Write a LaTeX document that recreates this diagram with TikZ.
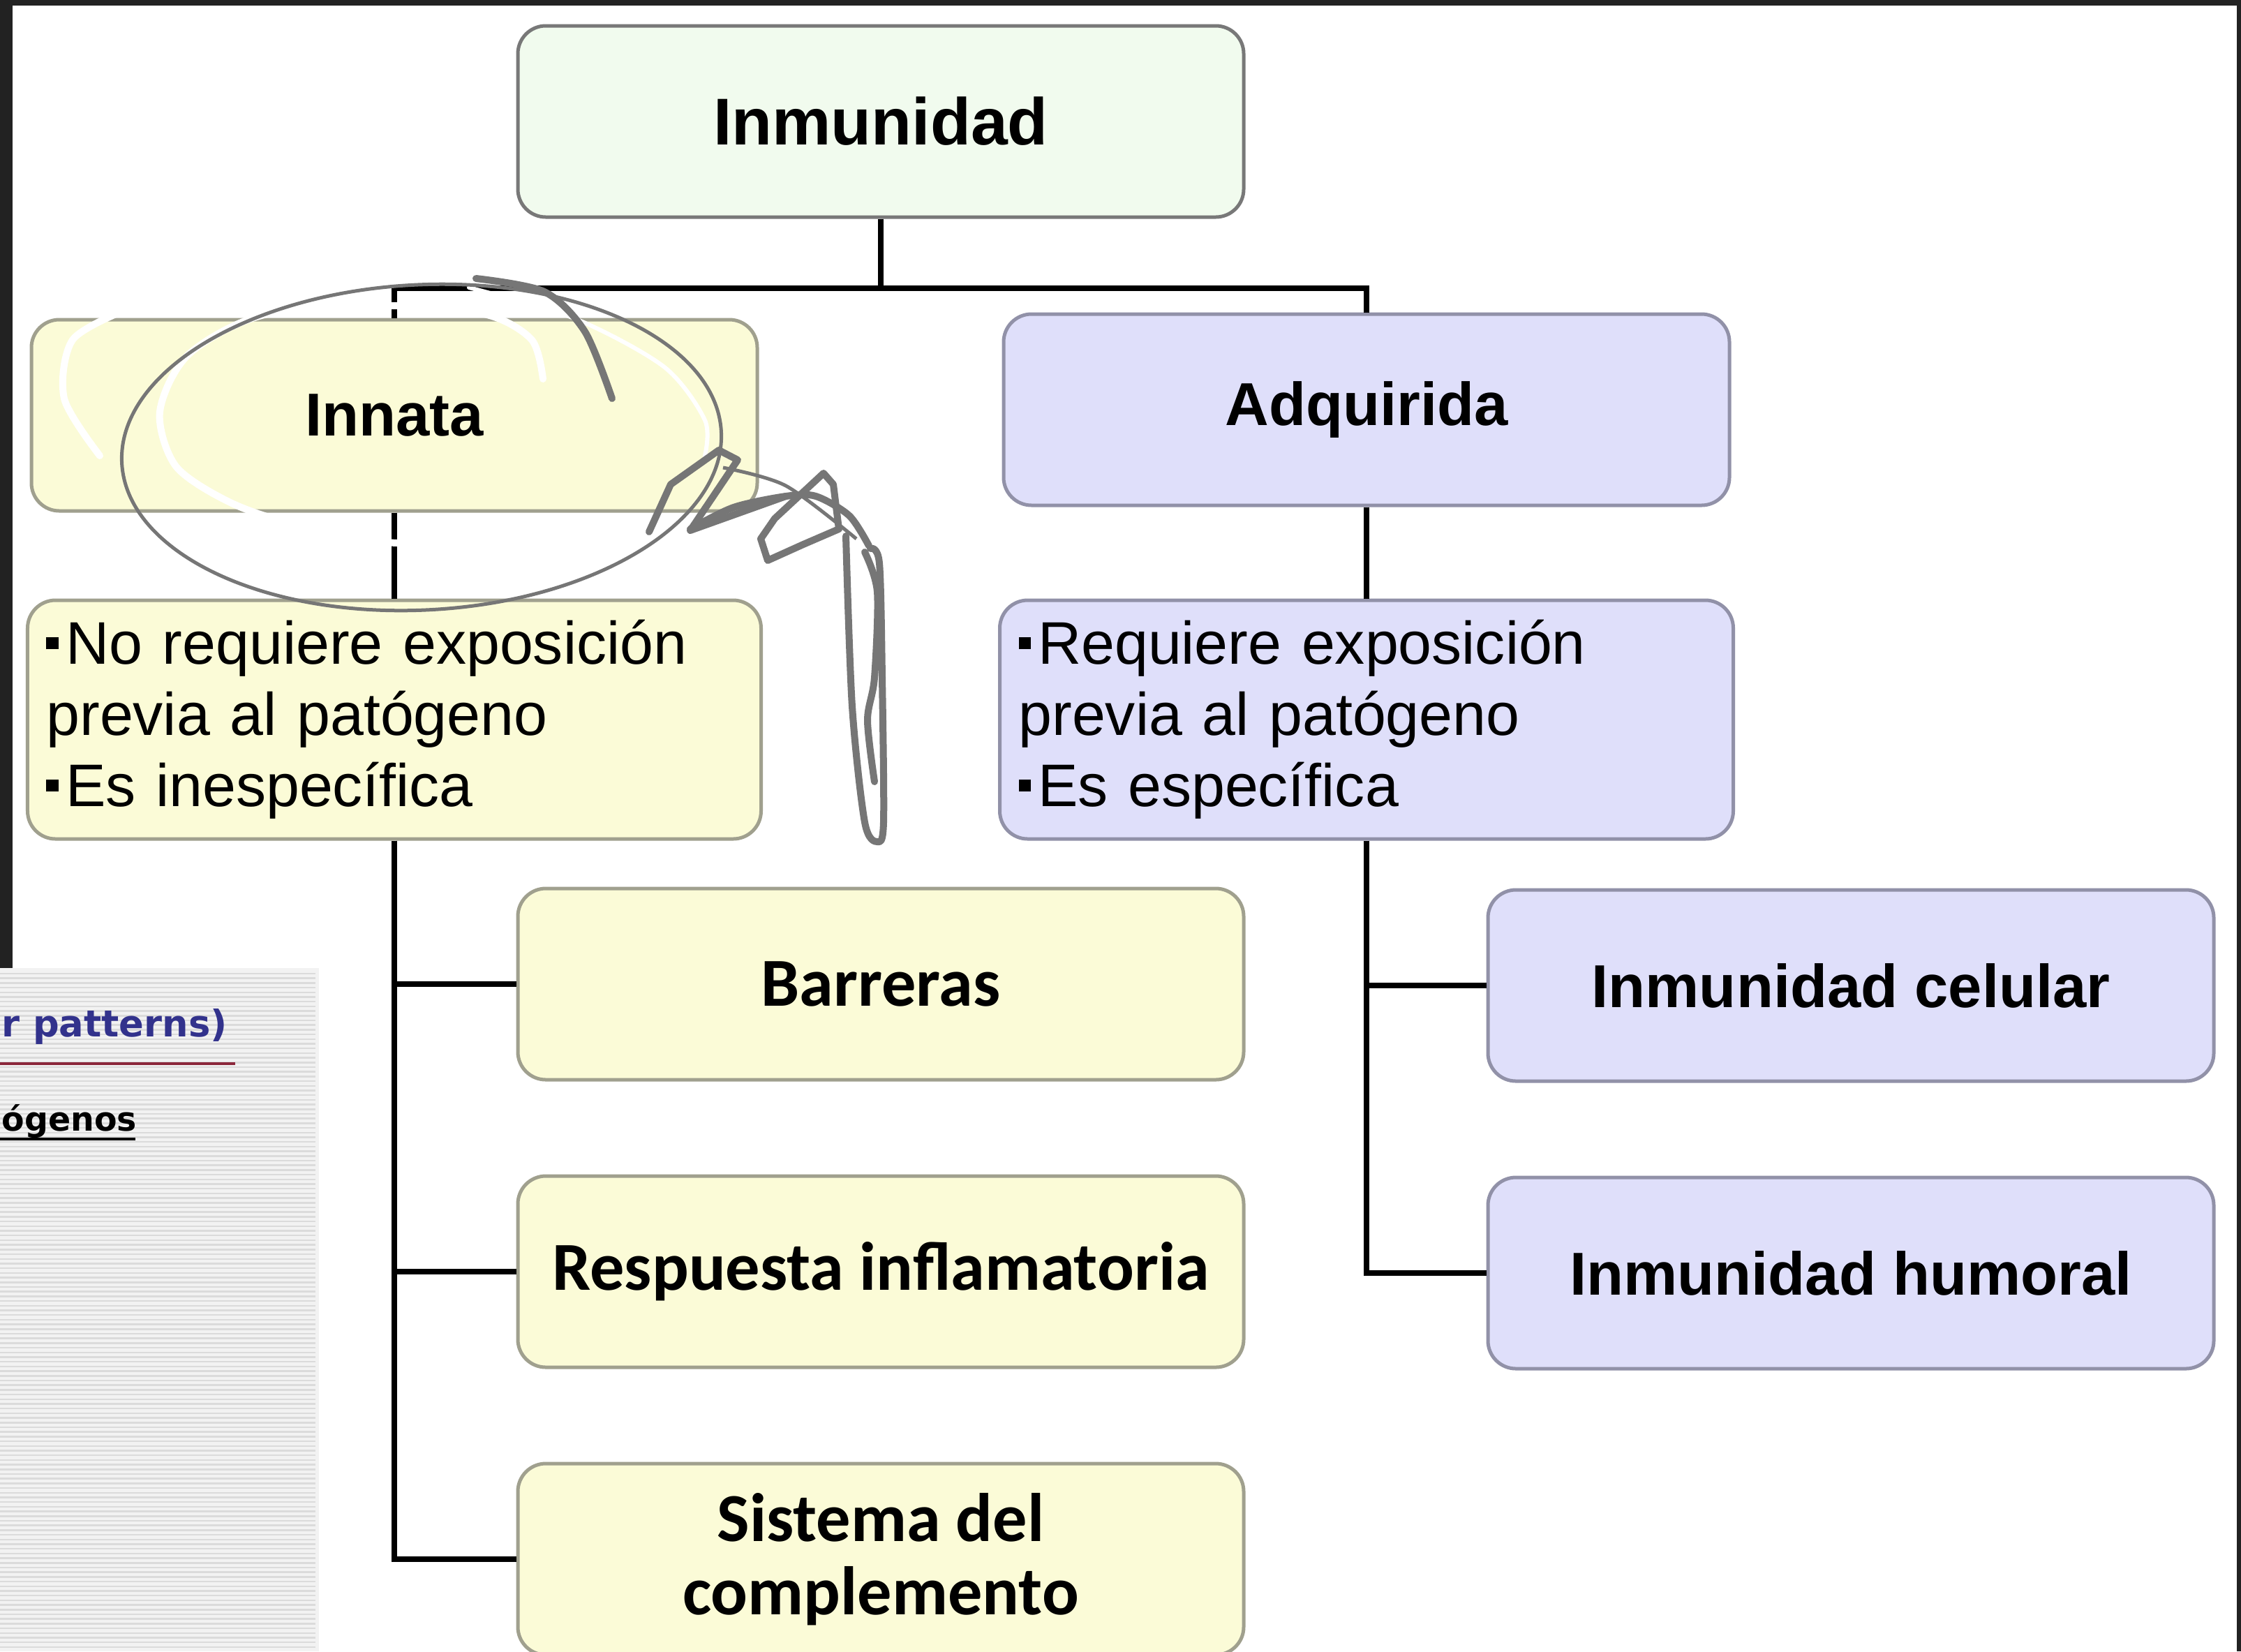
\documentclass[tikz,border=0pt]{standalone}
\usepackage{fontspec}
\setmainfont{Liberation Sans}
\newfontfamily\carlito{Carlito}
\newfontfamily\dejavu{DejaVu Sans}
\usetikzlibrary{shapes,arrows}
\definecolor{inmfill}{RGB}{241,251,238}
\definecolor{inmline}{RGB}{120,120,120}
\definecolor{innfill}{RGB}{251,251,215}
\definecolor{innline}{RGB}{160,160,142}
\definecolor{adqfill}{RGB}{223,223,250}
\definecolor{adqline}{RGB}{145,145,168}
\definecolor{framegray}{RGB}{34,34,34}
\definecolor{pen}{RGB}{118,118,118}
\definecolor{patblue}{RGB}{50,50,140}
\definecolor{linkred}{RGB}{140,40,60}
\newcommand\bul{\rule[0.25em]{0.2em}{0.2em}\hspace{0.12em}}

\begin{document}
\begin{tikzpicture}[node distance = 4.12cm, auto]

\tikzstyle{block} = [rectangle, draw, line width=0.05cm, rounded corners=0.4cm,
minimum width=10.4cm, minimum height=2.74cm, text centered,
font=\bfseries\fontsize{24.7}{29}\selectfont]
\tikzstyle{innblock} = [block, fill=innfill, draw=innline]
\tikzstyle{adqblock} = [block, fill=adqfill, draw=adqline]
\tikzstyle{subblock} = [innblock, align=center,
font=\carlito\bfseries\fontsize{28}{29.7}\selectfont]
\tikzstyle{innlist} = [innblock, text width=9.97cm, align=left, inner xsep=0.27cm,
minimum height=3.42cm, font=\fontsize{24.5}{29}\selectfont]
\tikzstyle{adqlist} = [innlist, fill=adqfill, draw=adqline]
\tikzstyle{line} = [draw, line width=0.08cm]
\tikzstyle{pencil} = [draw=pen, line width=0.1cm, line cap=round, line join=round]
\tikzstyle{eraser} = [draw=white, line width=0.1cm, line cap=round]

\useasboundingbox (0,0) rectangle (32.11,-23.66);
\clip (0,0) rectangle (32.11,-23.66);
\fill[white] (0,0) rectangle (32.11,-23.66);

\node [block, fill=inmfill, draw=inmline, font=\bfseries\fontsize{27}{32}\selectfont]
(inmunidad) at (12.62,-1.74) {Inmunidad};

\node [innblock] (innata) at (5.65,-5.95) {Innata};
\node [innlist, below of=innata, node distance=4.36cm] (innata-list)
{\bul No requiere exposición\\previa al patógeno\\\bul Es inespecífica};

\node [adqblock] (adquirida) at (19.58,-5.87) {Adquirida};
\node [adqlist, below of=adquirida, node distance=4.44cm] (adquirida-list)
{\bul Requiere exposición\\previa al patógeno\\\bul Es específica};

\node [subblock] (barreras) at (12.62,-14.10) {Barreras};
\node [subblock, below of=barreras] (respuesta) {Respuesta inflamatoria};
\node [subblock, below of=respuesta] (sistema) {Sistema del\\complemento};

\node [adqblock] (celular) at (26.52,-14.12) {Inmunidad celular};
\node [adqblock, below of=celular] (humoral) {Inmunidad humoral};

\path [line] (inmunidad.south) -- ++(0,-0.99) -| (innata.north);
\path [line] (inmunidad.south) -- ++(0,-0.99) -| (adquirida.north);
\path [line] (innata.south) -- (innata-list.north);
\path [line] (adquirida.south) -- (adquirida-list.north);
\path [line] (innata-list.south) |- (barreras.west);
\path [line] (innata-list.south) |- (respuesta.west);
\path [line] (innata-list.south) |- (sistema.west);
\path [line] (adquirida-list.south) |- (celular.west);
\path [line] (adquirida-list.south) |- (humoral.west);

% pen marks round Innata
\draw [eraser] plot [smooth] coordinates {(1.43,-6.53) (0.92,-5.71) (1.04,-4.87) (1.80,-4.44)};
\draw [eraser] plot [smooth] coordinates {(7.78,-5.43) (7.62,-4.87) (6.98,-4.51)
(5.69,-4.38) (3.79,-4.51) (2.70,-5.08) (2.29,-5.90) (2.52,-6.68) (3.28,-7.19)
(4.18,-7.50) (5.69,-7.78) (7.62,-7.62) (9.15,-7.43)};
\draw [eraser, line width=0.06cm] plot [smooth] coordinates {(6.72,-4.12) (8.25,-4.57)
(9.52,-5.26) (10.10,-6.02) (10.10,-6.53)};
\draw [draw=pen, line width=0.05cm, rotate around={3:(6.04,-6.41)}]
(6.04,-6.41) ellipse (4.30cm and 2.33cm);
\draw [pencil] plot [smooth] coordinates {(6.82,-3.99) (7.80,-4.18) (8.38,-4.75) (8.77,-5.71)};
\draw [draw=pen, line width=0.05cm] plot [smooth] coordinates {(10.36,-6.70) (11.26,-6.96) (12.27,-7.72)};
\draw [pencil] plot [smooth] coordinates {(12.12,-7.68) (12.21,-10.12) (12.39,-11.78)
(12.57,-12.06) (12.66,-11.78) (12.64,-9.71) (12.60,-8.07) (12.47,-7.86)};
\draw [pencil] plot [smooth] coordinates {(12.53,-11.20) (12.43,-10.32) (12.53,-9.71)
(12.57,-8.48) (12.39,-7.91)};
\draw [pencil] plot [smooth] coordinates {(12.45,-7.82) (12.17,-7.39) (11.69,-7.11)
(11.26,-7.11) (10.51,-7.27) (9.89,-7.58)};
\draw [pencil] (9.30,-7.62) -- (9.61,-6.94) -- (10.30,-6.45) -- (10.57,-6.59)
-- (9.89,-7.60) -- (11.26,-7.11);
\draw [pencil] (11.00,-8.03) -- (10.90,-7.72) -- (11.10,-7.43) -- (11.80,-6.78)
-- (11.94,-6.94) -- (12.02,-7.58) -- (11.51,-7.80) -- cycle;

% page behind the diagram
\fill [white!95!black] (0,-13.87) rectangle (4.57,-23.66);
\foreach \y in {0,...,144}
  \draw [black!14, line width=0.025cm] (0,{-13.95-\y*0.067}) -- (4.52,{-13.95-\y*0.067});
\node [anchor=base west, inner sep=0, text=patblue,
font=\dejavu\bfseries\fontsize{15}{18}\selectfont] (patterns) at (0.02,-14.85) {r patterns)};
\draw [linkred, line width=0.04cm] (0,-15.24) -- (3.37,-15.24);
\node [anchor=base west, inner sep=0,
font=\dejavu\bfseries\fontsize{13.5}{16}\selectfont] (ogenos) at (0.02,-16.20) {ógenos};
\draw [line width=0.04cm] (0,-16.32) -- (1.94,-16.32);

% screen frame
\fill [framegray] (0,0) rectangle (32.11,-0.08);
\fill [framegray] (0,0) rectangle (0.18,-13.87);
\fill [framegray] (32.05,0) rectangle (32.11,-23.66);
\end{tikzpicture}
\end{document}
